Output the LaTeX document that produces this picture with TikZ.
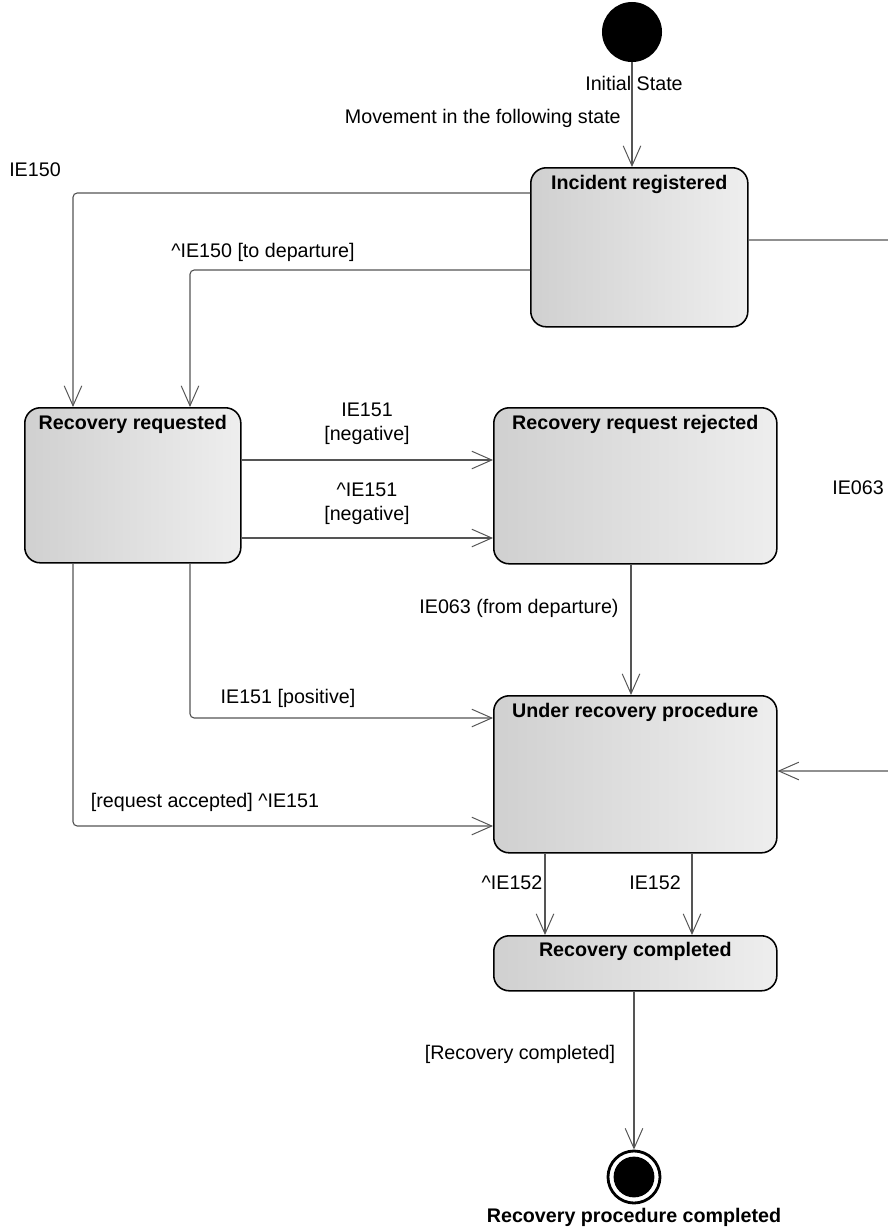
\documentclass[tikz,border=0pt]{standalone}
\usepackage{fontspec}
\setmainfont{Liberation Sans}
\usetikzlibrary{arrows.meta,positioning}
\definecolor{trgray}{RGB}{85,85,85}
\definecolor{stleft}{RGB}{208,208,208}
\definecolor{stright}{RGB}{238,238,238}
\tikzset{
  state/.style={draw=black, line width=1.1pt, rounded corners=11pt, left color=stleft,
    right color=stright, anchor=north west, inner sep=0pt},
  stitle/.style={font=\fontsize{14}{17}\selectfont\bfseries, anchor=base, inner sep=0pt},
  trans/.style={draw=trgray, line width=0.8pt, rounded corners=3pt,
    -{Straight Barb[length=5mm,width=4.4mm,line width=0.7pt]}},
  lbl/.style={inner sep=0pt, align=center}
}
\begin{document}
\begin{tikzpicture}[x=0.025cm,y=-0.025cm,font=\fontsize{14}{17}\selectfont]
  \clip (0,0) rectangle (888,1231);
  % states
  \node [circle, fill=black, inner sep=0pt, minimum size=1.5cm] (ini) at (632,32) {};
  \node [state, minimum width=5.425cm, minimum height=3.975cm] (inc) at (530,167) {};
  \node [state, minimum width=5.4cm, minimum height=3.875cm] (req) at (24,407) {};
  \node [state, minimum width=7.075cm, minimum height=3.9cm] (rej) at (493,407) {};
  \node [state, minimum width=7.075cm, minimum height=3.925cm] (und) at (493,695) {};
  \node [state, minimum width=7.075cm, minimum height=1.375cm] (comp) at (493,935) {};
  \node [circle, draw=black, line width=2pt, fill=white, inner sep=0pt, minimum size=1.3cm] (fin) at (634,1177) {};
  \node [circle, fill=black, inner sep=0pt, minimum size=1.02cm] (fininner) at (fin) {};
  \node [stitle] (inct) at ([yshift=-0.55cm]inc.north) {Incident registered};
  \node [stitle] (reqt) at ([yshift=-0.55cm]req.north) {Recovery requested};
  \node [stitle] (rejt) at ([yshift=-0.55cm]rej.north) {Recovery request rejected};
  \node [stitle] (undt) at ([yshift=-0.55cm]und.north) {Under recovery procedure};
  \node [stitle] (compt) at ([yshift=-0.53cm]comp.north) {Recovery completed};
  \node [stitle, anchor=center] (fint) at (634,1217) {Recovery procedure completed};
  \coordinate (offright) at (895,240);

  % transitions
  \draw [trans] (ini) -- (inc.north -| ini);
  \node [lbl] (linit) at (634,83) {Initial State};
  \node [lbl, anchor=east] (lmove) at (621,118) {Movement in the following state};

  \draw [trans] (inc.west |- 0,193) -| (req.north -| 73,0);
  \node [lbl] (lie150) at (35,170) {IE150};
  \draw [trans] (inc.west |- 0,270) -| (req.north -| 190,0);
  \node [lbl] (lie150d) at (263,252) {\textasciicircum IE150 [to departure]};
  \draw [trans] (inc.east |- offright) -- (offright) |- (und.east |- 0,771);
  \node [lbl] (lie063) at (858,488) {IE063};

  \draw [trans] (req.east |- 0,460) -- (rej.west |- 0,460);
  \node [lbl] (lneg) at (367,424) {IE151\\{}[negative]};
  \draw [trans] (req.east |- 0,538) -- (rej.west |- 0,538);
  \node [lbl] (lnegs) at (367,504) {\textasciicircum IE151\\{}[negative]};

  \draw [trans] (rej.south -| 631,0) -- (und.north -| 631,0);
  \node [lbl] (lfromdep) at (519,608) {IE063 (from departure)};
  \draw [trans] (req.south -| 190,0) |- (und.west |- 0,718);
  \node [lbl] (lpos) at (288,698) {IE151 [positive]};
  \draw [trans] (req.south -| 73,0) |- (und.west |- 0,826);
  \node [lbl] (lacc) at (205,802) {[request accepted] \textasciicircum IE151};

  \draw [trans] (und.south -| 545,0) -- (comp.north -| 545,0);
  \node [lbl] (lie152s) at (512,883) {\textasciicircum IE152};
  \draw [trans] (und.south -| 692,0) -- (comp.north -| 692,0);
  \node [lbl] (lie152) at (655,883) {IE152};

  \draw [trans] (comp.south -| fin) -- (fin.north);
  \node [lbl] (ldone) at (520,1054) {[Recovery completed]};
\end{tikzpicture}
\end{document}
